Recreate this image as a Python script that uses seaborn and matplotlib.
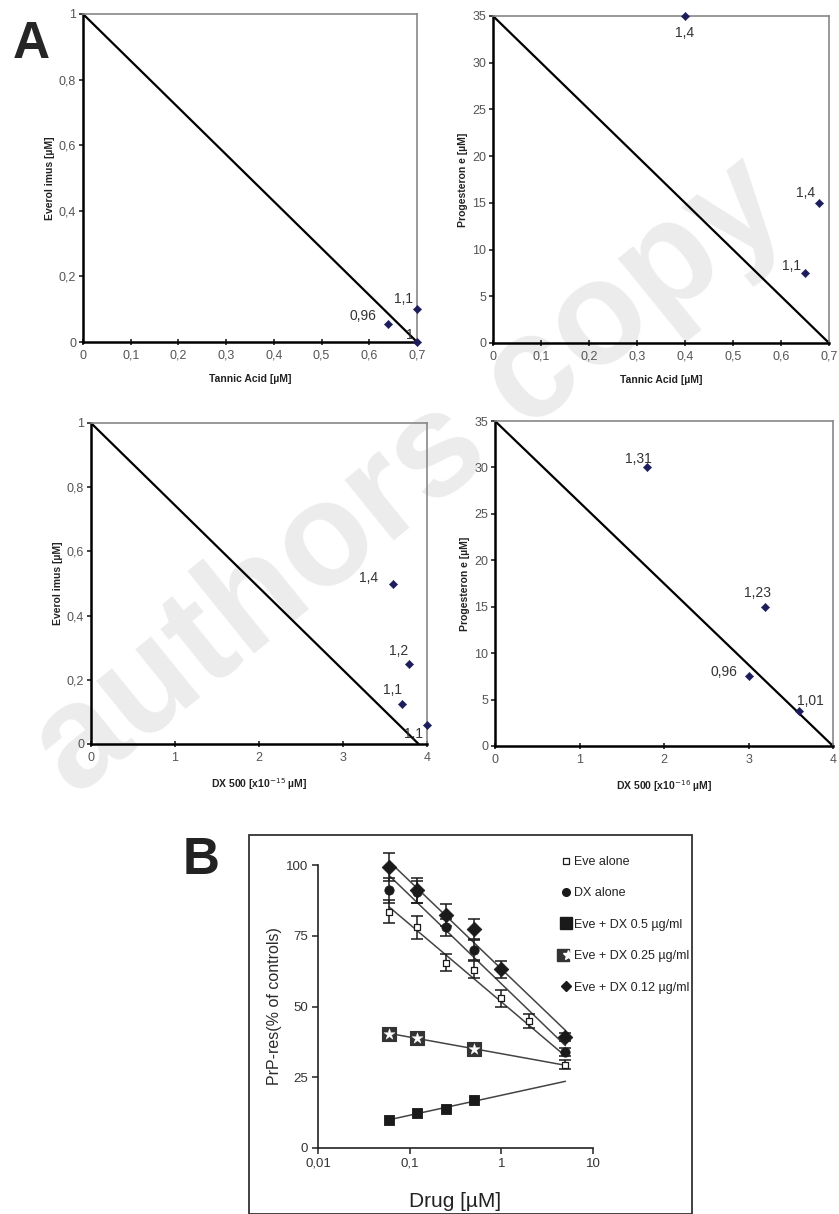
import numpy as np
import pandas as pd
import matplotlib
matplotlib.use("Agg")
import matplotlib.pyplot as plt
import seaborn as sns
from matplotlib.patches import Rectangle
from matplotlib.lines import Line2D
from matplotlib.legend_handler import HandlerTuple
from matplotlib.ticker import FuncFormatter, FixedLocator

# ---- panel A: isobolograms ----
# tannic acid vs everolimus
ta_eve_x = [0.64, 0.70, 0.70]
ta_eve_y = [0.055, 0.10, 0.0]
ta_eve_lab = ["0,96", "1,1", "1"]
ta_eve_iso = ([0, 0.7], [1, 0])

# tannic acid vs progesterone
ta_pro_x = [0.40, 0.68, 0.65]
ta_pro_y = [35, 15, 7.5]
ta_pro_lab = ["1,4", "1,4", "1,1"]
ta_pro_iso = ([0, 0.7], [35, 0])

# DX 500 vs everolimus
dx_eve_x = [3.6, 3.78, 3.7, 4.0]
dx_eve_y = [0.50, 0.25, 0.125, 0.06]
dx_eve_lab = ["1,4", "1,2", "1,1", "1,1"]
dx_eve_iso = ([0, 3.9], [1, 0])

# DX 500 vs progesterone
dx_pro_x = [1.8, 3.2, 3.0, 3.6]
dx_pro_y = [30, 15, 7.5, 3.8]
dx_pro_lab = ["1,31", "1,23", "0,96", "1,01"]
dx_pro_iso = ([0, 4], [35, 0])

# ---- panel B: PrP-res dose response ----
eve_x = [0.06, 0.12, 0.25, 0.5, 1, 2, 5]
eve_y = [83.5, 78, 65.5, 63, 53, 45, 29.5]
eve_err = [4, 4, 3, 3, 3, 2.5, 1.5]

dx_x = [0.06, 0.12, 0.25, 0.5, 5]
dx_y = [91, 90.5, 78, 70, 34]
dx_err = [4.5, 4, 3, 3.5, 1.5]

mix05_x = [0.06, 0.12, 0.25, 0.5]
mix05_y = [10, 12.4, 13.8, 16.8]

mix025_x = [0.06, 0.12, 0.5]
mix025_y = [40.3, 39, 35]

mix012_x = [0.06, 0.12, 0.25, 0.5, 1, 5]
mix012_y = [99.2, 91, 82.3, 77.5, 63.2, 39.3]
mix012_err = [5, 4.5, 4, 3.5, 3, 1.5]

fit_range = [0.06, 5]

legend_labels = ["Eve alone", "DX alone", "Eve + DX 0.5 µg/ml",
                 "Eve + DX 0.25 µg/ml", "Eve + DX 0.12 µg/ml"]

sns.set_style("white")
plt.rcParams["font.family"] = ["Liberation Sans", "DejaVu Sans"]

fig = plt.figure(figsize=(8.39, 12.14), dpi=100)
W, H = 839, 1214


def px_axes(left, top, right, bottom):
    return fig.add_axes([left / W, 1 - bottom / H, (right - left) / W, (bottom - top) / H])


def comma(v, pos=None):
    s = f"{v:g}"
    return s.replace(".", ",")


def iso_panel(ax, iso, xs, ys, labs, offs, xmax, ymax, xticks, yticks, xlabel, ylabel):
    ax.set_facecolor("none")
    sns.lineplot(x=iso[0], y=iso[1], ax=ax, color="black", lw=1.6)
    sns.scatterplot(x=xs, y=ys, ax=ax, marker="D", s=18, color="#1d1d5c",
                    edgecolor="#1d1d5c", zorder=5, clip_on=False)
    for x, y, t, o in zip(xs, ys, labs, offs):
        ax.annotate(t, (x, y), xytext=o, textcoords="offset points", fontsize=10,
                    color="#333333", ha="center", va="center")
    ax.set_xlim(0, xmax)
    ax.set_ylim(0, ymax)
    ax.xaxis.set_major_locator(FixedLocator(xticks))
    ax.yaxis.set_major_locator(FixedLocator(yticks))
    ax.xaxis.set_major_formatter(FuncFormatter(comma))
    ax.yaxis.set_major_formatter(FuncFormatter(comma))
    ax.tick_params(axis="x", direction="inout", length=5, width=1.2, labelsize=9,
                   colors="#222222", labelcolor="#555555", bottom=True, pad=3)
    ax.tick_params(axis="y", direction="out", length=3, width=1.2, labelsize=9,
                   colors="#222222", labelcolor="#555555", left=True, pad=2)
    for side in ["left", "bottom"]:
        ax.spines[side].set_color("black")
        ax.spines[side].set_linewidth(1.8)
    for side in ["top", "right"]:
        ax.spines[side].set_color("#888888")
        ax.spines[side].set_linewidth(1.2)
    ax.set_xlabel(xlabel, fontsize=7.5, fontweight="bold", color="#222222", labelpad=9)
    ax.set_ylabel(ylabel, fontsize=7.5, fontweight="bold", color="#222222", labelpad=3)


ax1 = px_axes(83, 14, 417, 342)
iso_panel(ax1, ta_eve_iso, ta_eve_x, ta_eve_y, ta_eve_lab,
          [(-18, 6), (-10, 7), (-5, 5)], 0.7, 1,
          np.arange(0, 0.71, 0.1), np.arange(0, 1.01, 0.2),
          "Tannic Acid [µM]", "Everol imus [µM]")

ax2 = px_axes(493, 16, 829, 343)
iso_panel(ax2, ta_pro_iso, ta_pro_x, ta_pro_y, ta_pro_lab,
          [(0, -12), (-10, 7), (-10, 5)], 0.7, 35,
          np.arange(0, 0.71, 0.1), np.arange(0, 36, 5),
          "Tannic Acid [µM]", "Progesteron e [µM]")

ax3 = px_axes(91, 423, 427, 744)
iso_panel(ax3, dx_eve_iso, dx_eve_x, dx_eve_y, dx_eve_lab,
          [(-18, 4), (-7, 9), (-7, 10), (-10, -7)], 4, 1,
          [0, 1, 2, 3, 4], np.arange(0, 1.01, 0.2),
          "DX 500 [x10$^{-15}$ µM]", "Everol imus [µM]")

ax4 = px_axes(495, 421, 833, 746)
iso_panel(ax4, dx_pro_iso, dx_pro_x, dx_pro_y, dx_pro_lab,
          [(-6, 6), (-6, 10), (-18, 3), (8, 7)], 4, 35,
          [0, 1, 2, 3, 4], np.arange(0, 36, 5),
          "DX 500 [x10$^{-16}$ µM]", "Progesteron e [µM]")

# ---- panel B ----
axb = px_axes(318, 865, 593, 1148)
axb.set_facecolor("none")
axb.set_xscale("log")


def fit_line(xs, ys):
    k, b = np.polyfit(np.log10(xs), ys, 1)
    fx = np.array(fit_range)
    sns.lineplot(x=fx, y=k * np.log10(fx) + b, ax=axb, color="#444444", lw=1.1, zorder=2)


ink = "#1a1a1a"
for xs, ys in [(eve_x, eve_y), (dx_x, dx_y), (mix05_x, mix05_y),
               (mix025_x, mix025_y), (mix012_x, mix012_y)]:
    fit_line(xs, ys)

for xs, ys, es in [(eve_x, eve_y, eve_err), (dx_x, dx_y, dx_err), (mix012_x, mix012_y, mix012_err)]:
    axb.errorbar(xs, ys, yerr=es, fmt="none", ecolor=ink, elinewidth=1.1,
                 capsize=4, capthick=1.1, zorder=3, clip_on=False)

sns.scatterplot(x=eve_x, y=eve_y, ax=axb, marker="s", s=22, color="white",
                edgecolor=ink, linewidth=0.9, zorder=5, clip_on=False)
sns.scatterplot(x=dx_x, y=dx_y, ax=axb, marker="o", s=45, color=ink,
                edgecolor=ink, zorder=5, clip_on=False)
sns.scatterplot(x=mix05_x, y=mix05_y, ax=axb, marker="s", s=60, color=ink,
                edgecolor=ink, zorder=5, clip_on=False)
sns.scatterplot(x=mix025_x, y=mix025_y, ax=axb, marker="s", s=100, color="#333333",
                edgecolor="#333333", zorder=5, clip_on=False)
sns.scatterplot(x=mix025_x, y=mix025_y, ax=axb, marker="*", s=70, color="white",
                edgecolor="white", linewidth=0.3, zorder=6, clip_on=False)
sns.scatterplot(x=mix012_x, y=mix012_y, ax=axb, marker="D", s=55, color=ink,
                edgecolor=ink, zorder=5, clip_on=False)

axb.set_xlim(0.01, 10)
axb.set_ylim(0, 100)
axb.set_xticks([0.01, 0.1, 1, 10])
axb.xaxis.set_major_formatter(FuncFormatter(comma))
axb.xaxis.set_minor_locator(FixedLocator([]))
axb.set_yticks([0, 25, 50, 75, 100])
axb.tick_params(axis="both", direction="out", length=4, width=1.1, labelsize=9.5,
                colors="#222222", labelcolor="#333333", bottom=True, left=True, pad=3)
for side in ["top", "right"]:
    axb.spines[side].set_visible(False)
for side in ["left", "bottom"]:
    axb.spines[side].set_color("#222222")
    axb.spines[side].set_linewidth(1.2)
axb.set_xlabel("Drug [µM]", fontsize=15, color="#222222", labelpad=16)
axb.set_ylabel("PrP-res(% of controls)", fontsize=11.5, color="#2a2a2a", labelpad=3)

# legend
h_eve = Line2D([], [], ls="none", marker="s", ms=4.5, mfc="white", mec=ink, mew=0.9)
h_dx = Line2D([], [], ls="none", marker="o", ms=5.5, mfc=ink, mec=ink)
h_05 = Line2D([], [], ls="none", marker="s", ms=8, mfc=ink, mec=ink)
h_025a = Line2D([], [], ls="none", marker="s", ms=9, mfc="#333333", mec="#333333")
h_025b = Line2D([], [], ls="none", marker="*", ms=7, mfc="white", mec="white")
h_012 = Line2D([], [], ls="none", marker="D", ms=5, mfc=ink, mec=ink)
fig.legend([h_eve, h_dx, h_05, (h_025a, h_025b), h_012], legend_labels,
           handler_map={tuple: HandlerTuple(ndivide=None, pad=0)},
           loc="upper left", bbox_to_anchor=(555 / W, 1 - 851 / H), frameon=False,
           fontsize=9, labelspacing=1.55, handlelength=0.9, handletextpad=0.25,
           borderaxespad=0, labelcolor="#222222")

# frame around panel B
fig.patches.append(Rectangle((249 / W, 0), (692 - 249) / W, 1 - 835 / H,
                             transform=fig.transFigure, fill=False,
                             edgecolor="#333333", lw=1.3))

# panel letters
fig.text(13 / W, 1 - 58 / H, "A", fontsize=37, fontweight="bold", va="baseline", ha="left")
fig.text(183 / W, 1 - 874 / H, "B", fontsize=37, fontweight="bold", va="baseline", ha="left",
         color="#222222")

# watermark
fig.text(410 / W, 1 - 478 / H, "authors copy", fontsize=106, fontweight="bold",
         color="#ececec", rotation=39, ha="center", va="center",
         rotation_mode="anchor", zorder=-1)

fig.savefig("out.png", dpi=100)
